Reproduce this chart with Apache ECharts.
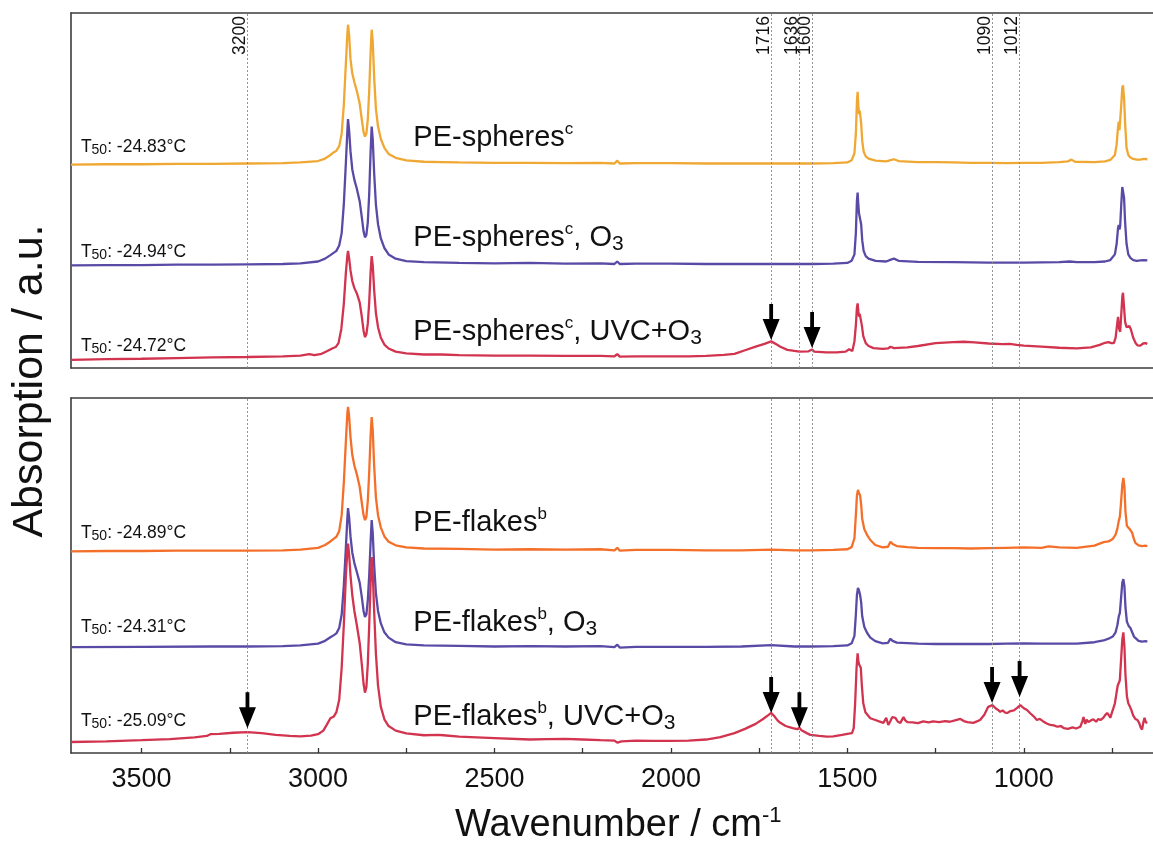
<!DOCTYPE html>
<html><head><meta charset="utf-8">
<script src="https://cdn.jsdelivr.net/npm/echarts@6/dist/echarts.min.js"></script>
<style>html,body{margin:0;padding:0;background:#fff}#c{width:1153px;height:851px}</style>
</head><body><div id="c"></div>
<script>
// ---------- DATA ----------
const tickValues = [750,1000,1250,1500,1750,2000,2250,2500,2750,3000,3250,3500];
const labelValues = [1000,1500,2000,2500,3000,3500];
const refLines = [3200,1716,1636,1600,1090,1012];
const t50 = ['-24.83','-24.94','-24.72','-24.89','-24.31','-25.09'];
const sampleNames = ['PE-spheres','PE-spheres','PE-spheres','PE-flakes','PE-flakes','PE-flakes'];
const sampleSup = ['c','c','c','b','b','b'];
const treatments = ['','O3','UVC+O3','','O3','UVC+O3'];
const arrowsTop = [[1716,7.9],[1600,5.6]];
const arrowsBottom = [[3200,7.0],[1716,11.3],[1636,7.0],[1090,14.1],[1012,15.8]];

const spheres = [[3700,57.3],[3600,57.4],[3500,57.4],[3400,57.5],[3300,57.5],[3200,57.6],[3100,57.7],[3050,57.9],[3000,58.3],[2980,59.0],[2965,60.0],[2955,60.8],[2948,61.2],[2940,62.5],[2933,66],[2927,74],[2921,86],[2917,94],[2915,96.7],[2912,94],[2908,87],[2903,83],[2897,80.5],[2890,78],[2882,74.5],[2876,70],[2871,66.5],[2867,65.2],[2863,66],[2859,70],[2855,78],[2851,89],[2848,95.3],[2845,92],[2841,82],[2836,73],[2830,68],[2822,64.5],[2812,62],[2800,60.3],[2780,59.2],[2750,58.5],[2700,58.1],[2650,58.0],[2600,57.9],[2500,57.8],[2400,57.8],[2300,57.7],[2200,57.8],[2160,57.6],[2152,58.4],[2145,57.6],[2100,57.7],[2000,57.7],[1900,57.6],[1800,57.6],[1716,57.6],[1650,57.6],[1600,57.6],[1540,57.7],[1500,57.9],[1488,58.5],[1480,60.5],[1476,66],[1473,75],[1471,77.8],[1469,74],[1467,71.5],[1465,72.5],[1463,72.2],[1461,69],[1458,64],[1454,61],[1448,59.6],[1440,59.0],[1420,58.4],[1390,58.2],[1375,58.6],[1368,58.8],[1355,58.3],[1300,58.0],[1250,58.0],[1200,57.9],[1150,57.8],[1100,57.8],[1050,57.7],[1000,57.8],[950,57.8],[900,58.0],[875,58.2],[865,58.7],[855,58.1],[800,58.0],[770,58.2],[755,58.6],[742,60],[737,63],[733,68],[731,69.4],[729,67],[727,67.5],[724,74],[721,79],[719,79.6],[716,76],[713,69],[709,62],[704,60],[698,59.3],[690,58.9],[680,58.7],[670,58.7],[660,58.9],[650,58.8]];

const spheresO3 = [[3700,28.9],[3600,29.0],[3500,29.0],[3400,29.1],[3300,29.1],[3200,29.2],[3100,29.3],[3050,29.5],[3000,30.0],[2980,30.8],[2965,31.8],[2955,32.5],[2948,33.0],[2940,34.5],[2933,38],[2927,46],[2921,58],[2917,66.5],[2915,70.1],[2912,67],[2908,61],[2903,56],[2897,53],[2890,50.5],[2882,47],[2876,42.5],[2871,38.5],[2867,36.8],[2863,37.5],[2859,41],[2855,49],[2851,61],[2848,68],[2845,64.5],[2841,55],[2836,46],[2830,40.5],[2822,36.5],[2812,33.8],[2800,32],[2780,30.8],[2750,30.1],[2700,29.8],[2600,29.6],[2500,29.5],[2400,29.6],[2300,29.4],[2200,29.5],[2160,29.3],[2152,30.0],[2145,29.3],[2100,29.4],[2000,29.4],[1900,29.3],[1800,29.3],[1700,29.3],[1600,29.3],[1540,29.4],[1500,29.6],[1488,30.2],[1480,32],[1476,38],[1473,47],[1471,49.4],[1469,46],[1467,43.5],[1465,44],[1463,43.6],[1461,40.5],[1458,36],[1454,33],[1448,31.5],[1440,30.8],[1420,30.2],[1390,30.0],[1375,30.6],[1368,30.8],[1355,30.2],[1300,29.9],[1200,29.8],[1100,29.7],[1000,29.7],[900,29.8],[870,30.0],[850,29.8],[800,29.8],[770,30.0],[755,30.4],[742,32],[737,35],[733,39.5],[731,40.3],[729,39],[727,40],[724,46],[721,51],[719,51.5],[716,48],[713,41],[709,35],[704,32],[698,31],[690,30.4],[680,30.2],[670,30.3],[660,30.4],[650,30.3]];

const spheresUV = [[3700,2.3],[3600,2.5],[3500,2.6],[3400,2.8],[3300,3.0],[3200,3.1],[3100,3.3],[3050,3.5],[3025,3.9],[3010,3.6],[2990,4.0],[2975,4.7],[2960,5.5],[2950,5.9],[2942,7],[2934,11],[2927,18],[2921,27],[2917,31.5],[2915,33],[2912,31],[2908,27.5],[2903,24.5],[2897,22.5],[2890,21],[2882,18.5],[2876,14.5],[2871,10.5],[2867,8.7],[2863,9.5],[2859,12.5],[2855,18.5],[2851,27],[2848,31.5],[2845,29],[2841,22],[2836,15.5],[2830,11.5],[2822,8.5],[2812,6.6],[2800,5.5],[2780,4.6],[2750,4.1],[2700,3.8],[2650,3.8],[2600,3.6],[2500,3.5],[2400,3.5],[2300,3.4],[2200,3.4],[2160,3.3],[2152,3.9],[2145,3.2],[2100,3.3],[2000,3.3],[1950,3.3],[1900,3.4],[1850,3.7],[1820,4.0],[1790,5.0],[1760,6.0],[1735,6.8],[1716,7.5],[1700,6.6],[1690,6.0],[1670,5.1],[1650,4.8],[1636,4.6],[1610,4.7],[1600,5.2],[1594,4.6],[1560,4.4],[1530,4.4],[1505,4.6],[1495,5.3],[1492,5.7],[1486,4.8],[1480,7.5],[1476,12],[1473,17],[1471,18.2],[1469,16],[1467,14.5],[1465,15.2],[1462,14.9],[1459,12],[1455,9],[1448,7.0],[1440,6.2],[1426,5.6],[1400,5.4],[1385,5.5],[1378,6.0],[1368,5.6],[1330,5.8],[1300,6.2],[1250,7.0],[1200,7.3],[1170,7.4],[1140,7.2],[1100,6.9],[1060,6.7],[1040,6.8],[1020,6.5],[1000,6.3],[950,6.0],[900,5.7],[850,5.5],[810,5.8],[785,6.5],[770,7.1],[760,7.3],[752,7.0],[745,7.0],[740,8.5],[736,12],[733,14.4],[730,11],[727,10.2],[724,15],[721,20],[719,21.2],[716,17],[713,13],[709,11.5],[705,11],[701,11.8],[697,11.0],[690,8.5],[683,7.0],[678,6.4],[670,6.3],[662,6.9],[655,7.0],[650,6.8]];

const flakes = [[3700,56.8],[3600,56.9],[3500,56.9],[3400,57.0],[3300,57.0],[3200,57.0],[3100,57.1],[3050,57.3],[3000,57.8],[2980,58.6],[2965,59.6],[2955,60.4],[2948,60.9],[2940,62.5],[2933,67],[2927,76],[2921,88],[2917,95.5],[2915,97.5],[2912,95],[2908,89],[2903,84],[2897,81],[2890,78.5],[2882,75],[2876,70.5],[2871,67],[2867,65.6],[2863,66.5],[2859,71],[2855,79],[2851,89.5],[2848,94.6],[2845,91],[2841,81],[2836,72],[2830,67],[2822,63.5],[2812,61],[2800,59.5],[2780,58.5],[2750,57.9],[2700,57.6],[2600,57.5],[2500,57.3],[2400,57.4],[2300,57.3],[2200,57.4],[2160,57.1],[2152,57.8],[2145,57.0],[2100,57.2],[2000,57.2],[1900,57.1],[1800,57.1],[1716,57.3],[1650,57.1],[1600,57.1],[1540,57.2],[1500,57.4],[1488,58.0],[1480,60.5],[1476,67],[1473,72.5],[1470,74.1],[1467,73.2],[1464,72.6],[1461,70],[1458,66],[1452,63],[1444,61.4],[1435,60.0],[1421,58.6],[1400,57.9],[1385,58.1],[1378,59.5],[1372,58.9],[1360,58.3],[1330,58.0],[1300,57.8],[1250,57.7],[1200,57.7],[1150,57.6],[1100,57.7],[1050,57.8],[1000,57.9],[950,57.8],[930,58.2],[900,57.9],[850,57.8],[800,58.4],[774,59.4],[760,59.6],[748,60.3],[740,61.5],[735,63.2],[731,65.4],[728,66.5],[725,70],[721,75.5],[718,77.5],[715,75],[712,68],[708,64],[703,63.4],[698,62.8],[693,62],[688,60.2],[684,59.2],[675,58.5],[665,58.3],[655,58.4],[650,58.3]];

const flakesO3 = [[3700,29.8],[3500,29.9],[3300,30.0],[3200,30.0],[3100,30.1],[3050,30.3],[3000,30.8],[2980,31.6],[2965,32.6],[2955,33.2],[2948,33.7],[2940,35.2],[2933,39],[2927,47],[2921,58],[2917,66],[2915,69],[2912,66.5],[2908,61],[2903,56.5],[2897,53.5],[2890,51],[2882,48],[2876,44],[2871,40],[2867,38.3],[2863,39],[2859,43],[2855,50],[2851,59.5],[2848,65.6],[2845,62],[2841,53],[2836,45],[2830,40],[2822,36.5],[2812,34],[2800,32.5],[2780,31.2],[2750,30.6],[2700,30.3],[2600,30.2],[2500,30.0],[2400,30.1],[2300,30.0],[2200,30.1],[2160,29.8],[2152,30.5],[2145,29.7],[2100,29.9],[2000,29.9],[1900,29.9],[1800,30.0],[1716,30.4],[1650,30.0],[1600,30.0],[1540,30.1],[1500,30.3],[1488,30.9],[1480,33],[1476,39],[1473,44.5],[1470,46.5],[1467,45.8],[1464,44.5],[1461,42.5],[1458,38.5],[1452,35.5],[1444,33.8],[1435,32.5],[1421,31.5],[1400,30.9],[1385,31.0],[1378,32.2],[1372,31.6],[1360,31.1],[1300,30.8],[1250,30.7],[1200,30.7],[1100,30.7],[1050,30.8],[1000,30.9],[950,30.8],[900,30.8],[850,30.8],[800,31.2],[774,31.7],[760,32.2],[748,32.8],[740,34],[735,36],[731,38.5],[728,39.4],[725,43],[721,48],[718,49],[715,47],[712,41],[708,37],[703,35.8],[698,35.2],[693,34],[688,32.8],[684,32.3],[675,31.6],[665,31.4],[655,31.5],[650,31.4]];

const flakesUV = [[3700,3.1],[3600,3.3],[3500,3.6],[3420,3.9],[3350,4.4],[3315,4.8],[3305,5.3],[3280,5.4],[3240,5.7],[3200,5.9],[3160,5.6],[3120,5.1],[3080,4.8],[3050,4.7],[3020,4.9],[3000,5.3],[2985,6.3],[2975,8],[2965,9.8],[2955,10.3],[2948,11.5],[2940,15],[2933,24],[2927,36],[2921,50],[2917,57],[2915,59],[2912,56],[2908,50],[2903,44.5],[2897,40],[2890,36],[2882,31],[2876,25],[2871,19.5],[2867,17],[2863,18.5],[2859,25],[2855,36],[2851,48],[2848,55.2],[2845,51],[2841,40],[2836,28],[2830,19],[2822,13],[2812,9.5],[2800,7.6],[2780,6.3],[2750,5.5],[2700,5.0],[2660,5.1],[2645,5.0],[2600,4.6],[2500,4.2],[2400,3.8],[2350,3.9],[2300,4.0],[2250,3.8],[2200,3.6],[2160,3.5],[2152,2.9],[2140,3.3],[2100,3.5],[2050,3.4],[2000,3.4],[1950,3.5],[1900,3.8],[1860,4.5],[1820,5.6],[1790,6.8],[1760,8.2],[1740,9.5],[1725,10.6],[1716,11.3],[1708,10.5],[1698,9.2],[1690,8.5],[1675,7.6],[1655,7.0],[1642,6.7],[1636,7.1],[1630,6.4],[1615,5.6],[1605,5.1],[1580,4.8],[1558,4.6],[1540,4.7],[1515,5.1],[1500,5.4],[1487,5.6],[1482,7],[1478,14],[1474,24],[1471,28.1],[1469,26],[1467,25],[1465,25.3],[1462,24],[1459,19],[1455,14],[1449,11.5],[1444,11.2],[1435,9.8],[1421,9.3],[1410,8.9],[1398,8.5],[1390,9.9],[1384,7.9],[1378,9.0],[1373,10.1],[1364,9.9],[1357,8.8],[1350,8.5],[1341,10.1],[1336,9.2],[1330,8.7],[1315,8.6],[1300,8.4],[1285,8.9],[1270,8.6],[1257,8.9],[1240,8.7],[1223,9.0],[1210,8.8],[1195,9.2],[1180,9.6],[1170,9.0],[1160,8.7],[1143,8.5],[1133,8.9],[1124,9.3],[1112,10.8],[1101,13.0],[1089,13.5],[1080,12.6],[1074,12.2],[1067,11.6],[1060,12.0],[1053,11.4],[1047,11.3],[1038,11.8],[1028,12.0],[1019,12.7],[1010,13.5],[1000,12.6],[991,12.1],[982,11.2],[973,10.4],[963,9.3],[955,9.6],[945,8.9],[935,8.3],[925,7.9],[915,7.8],[905,7.4],[895,7.6],[887,7.0],[875,6.8],[862,7.2],[852,6.9],[840,7.4],[834,9.0],[831,10.1],[826,8.2],[822,9.4],[817,8.7],[810,9.2],[803,9.5],[795,8.8],[789,9.6],[783,9.3],[775,9.9],[770,10.6],[764,11.3],[758,10.5],[755,9.9],[750,11.5],[746,12.7],[742,14],[738,16.5],[734,19],[731,19.7],[728,20.5],[724,27],[721,32],[718,34],[715,30],[712,22],[708,16],[704,14],[700,13.2],[695,12],[690,10.5],[684,9.6],[678,9.3],[673,8.4],[669,7.2],[665,6.6],[661,8.8],[658,9.9],[654,8.6],[650,8.5]];

const spectra = [spheres, spheresO3, spheresUV, flakes, flakesO3, flakesUV];

// ---------- LAYOUT / STYLE ----------
const X_MIN = 634, X_MAX = 3700;
const panelOf = [0,0,0,1,1,1];
const colors = ['#F0A834','#5A4AA6','#D2344F','#F4702A','#5A4AA6','#D2344F'];
const peLabelX = 2730, peLabelBase = [62, 33.8, 7.3, 62, 33.8, 7.3];
const t50X = 3672, t50Base = [60.6, 31.0, 4.5, 60.3, 33.8, 7.3];
const FONT = '"Liberation Sans", Arial, Helvetica, sans-serif';
const TXT = '#111';
const FRAME = {color: '#3c3c3c', width: 1.6};
const arrowPath = 'path://M6.6,0L10.4,0L10.4,15L17,15L8.5,36L0,15L6.6,15Z';

const chart = echarts.init(document.getElementById('c'), null, {renderer: 'canvas'});

const grids = [
  {left: 71, top: 13, right: 0, height: 355},
  {left: 71, top: 398, right: 0, height: 355}
];
const xAxes = [];
[0,1].forEach(i => xAxes.push({
  type: 'value', gridIndex: i, inverse: true, min: X_MIN, max: X_MAX, position: 'bottom',
  axisLine: {show: true, onZero: false, lineStyle: FRAME},
  splitLine: {show: false},
  axisTick: i === 1 ? {show: true, inside: true, length: 5, customValues: tickValues, lineStyle: {color: '#333', width: 1.3}} : {show: false},
  axisLabel: i === 1 ? {show: true, customValues: labelValues, formatter: v => String(v), fontSize: 27, fontFamily: FONT, color: TXT, margin: 13} : {show: false}
}));
[0,1].forEach(i => xAxes.push({
  type: 'value', gridIndex: i, inverse: true, min: X_MIN, max: X_MAX, position: 'top',
  axisLine: {show: true, onZero: false, lineStyle: FRAME},
  splitLine: {show: false}, axisTick: {show: false}, axisLabel: {show: false}
}));
const yAxes = [0,1].map(i => ({
  type: 'value', gridIndex: i, min: 0, max: 100, position: 'left',
  axisLine: {show: true, onZero: false, lineStyle: FRAME},
  splitLine: {show: false}, axisTick: {show: false}, axisLabel: {show: false}
}));

const series = spectra.map((d, k) => ({
  type: 'line', name: 'S' + k, xAxisIndex: panelOf[k], yAxisIndex: panelOf[k],
  data: d, showSymbol: false, symbol: 'none', smooth: false, animation: false,
  lineStyle: {color: colors[k], width: 2.3}, z: 3,
  emphasis: {disabled: true},
  markLine: (k === 0 || k === 3) ? {
    silent: true, symbol: ['none','none'], animation: false,
    lineStyle: {color: '#888', type: [2, 2], width: 0.9},
    label: k === 0 ? {show: true, position: 'insideEndTop', formatter: p => String(p.value), fontSize: 17.5, fontFamily: FONT, color: TXT, distance: [3, -2]} : {show: false},
    emphasis: {disabled: true},
    data: refLines.map(v => ({xAxis: v}))
  } : undefined
}));
[arrowsTop, arrowsBottom].forEach((arr, i) => {
  series.push({
    type: 'scatter', xAxisIndex: i, yAxisIndex: i, data: arr, symbol: arrowPath,
    symbolSize: [17, 36], symbolOffset: [0, -18], itemStyle: {color: '#000', opacity: 1},
    emphasis: {disabled: true}, z: 5, silent: true, animation: false
  });
});

chart.setOption({
  animation: false,
  backgroundColor: '#fff',
  grid: grids, xAxis: xAxes, yAxis: yAxes, series: series
});

// ---------- TEXT ANNOTATIONS ----------
const graphics = [];
spectra.forEach((d, k) => {
  const p = panelOf[k];
  const pt = chart.convertToPixel({gridIndex: p}, [peLabelX, peLabelBase[k]]);
  let txt = '{m|' + sampleNames[k] + '}{p|' + sampleSup[k] + '}';
  if (treatments[k]) txt += '{m|, ' + treatments[k].replace(/O3$/, 'O}{b|3}');
  graphics.push({
    type: 'text', x: pt[0], y: pt[1] - 0.3465 * 29, z: 10, silent: true,
    style: {
      text: txt, align: 'left', verticalAlign: 'middle', fill: TXT,
      rich: {
        m: {fontSize: 29, fontFamily: FONT, lineHeight: 34, verticalAlign: 'middle', fill: TXT},
        p: {fontSize: 17, fontFamily: FONT, lineHeight: 18, verticalAlign: 'top', fill: TXT},
        b: {fontSize: 21, fontFamily: FONT, lineHeight: 10, verticalAlign: 'bottom', fill: TXT}
      }
    }
  });
  const q = chart.convertToPixel({gridIndex: p}, [t50X, t50Base[k]]);
  graphics.push({
    type: 'text', x: q[0], y: q[1] - 0.3465 * 17.5, z: 10, silent: true,
    style: {
      text: '{m|T}{s|50}{m|: ' + t50[k] + '°C}', align: 'left', verticalAlign: 'middle', fill: TXT,
      rich: {
        m: {fontSize: 17.5, fontFamily: FONT, lineHeight: 20, verticalAlign: 'middle', fill: TXT},
        s: {fontSize: 14, fontFamily: FONT, lineHeight: 10, verticalAlign: 'bottom', fill: TXT}
      }
    }
  });
});
graphics.push({
  type: 'text', x: 30, y: 381, rotation: Math.PI / 2, silent: true,
  style: {text: 'Absorption / a.u.', font: '43px ' + FONT, align: 'center', verticalAlign: 'middle', fill: TXT}
});
graphics.push({
  type: 'text', x: 455, y: 826, silent: true,
  style: {
    text: '{m|Wavenumber / cm}{p|-1}', align: 'left', verticalAlign: 'middle', fill: TXT,
    rich: {
      m: {fontSize: 38, fontFamily: FONT, lineHeight: 42, verticalAlign: 'middle', fill: TXT},
      p: {fontSize: 22, fontFamily: FONT, lineHeight: 29, verticalAlign: 'top', fill: TXT}
    }
  }
});
chart.setOption({graphic: graphics});
</script>
</body></html>
